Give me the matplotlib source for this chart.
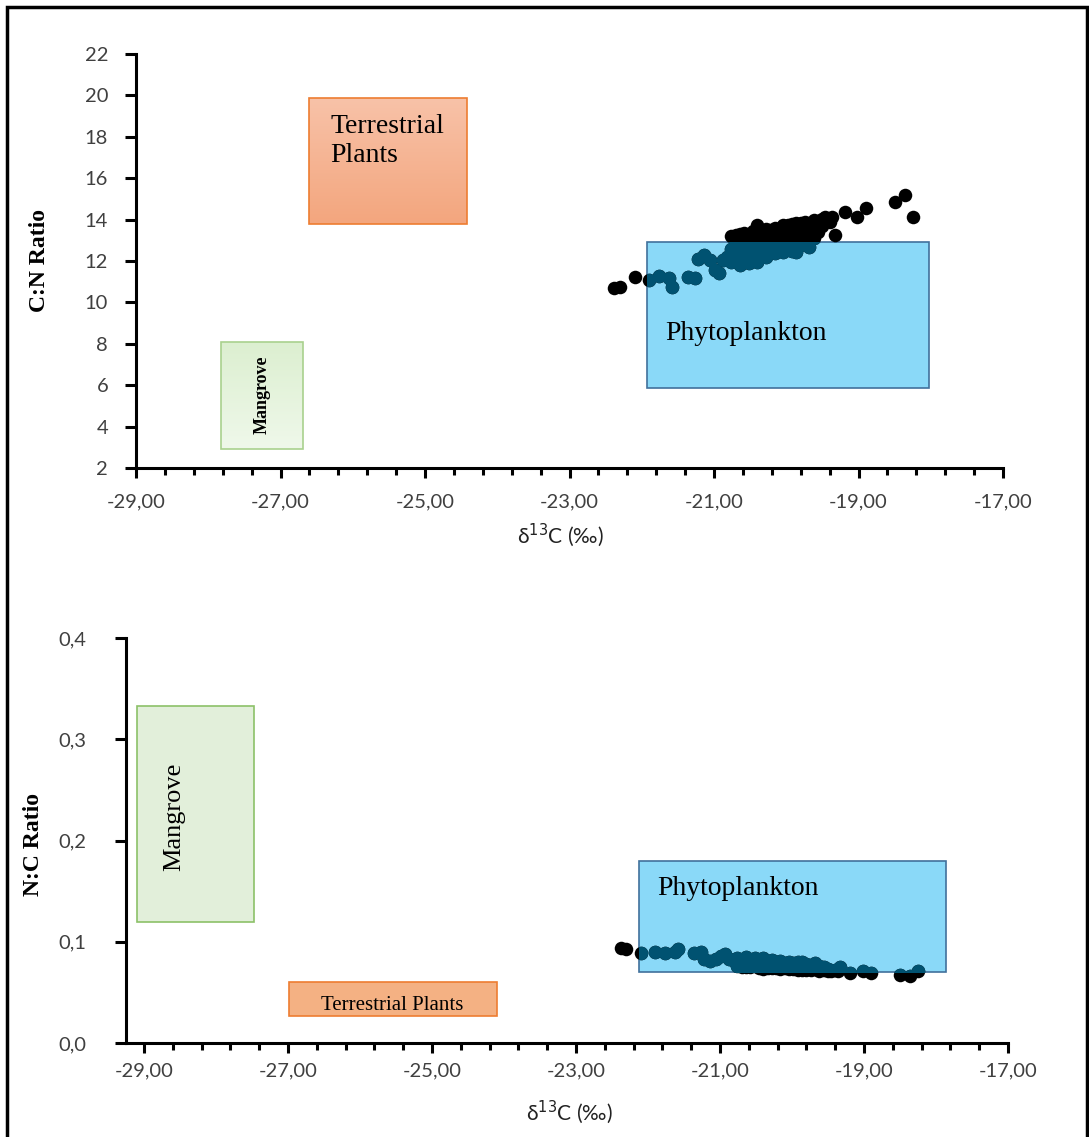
import numpy as np
import matplotlib
matplotlib.use("Agg")
import matplotlib.pyplot as plt
from matplotlib.patches import Rectangle
from matplotlib.colors import LinearSegmentedColormap
from matplotlib.ticker import FixedLocator, FuncFormatter

# sample points: d13C (permil) and C:N ratio
d13c = [-22.38, -22.30, -22.10, -21.90, -21.76, -21.62, -21.58, -21.36, -21.26,
        -21.22, -21.14, -21.06, -20.99, -20.93, -20.88, -20.82,
        -20.76, -20.76, -20.76,
        -20.70, -20.70, -20.70,
        -20.64, -20.64, -20.64, -20.64,
        -20.58, -20.58, -20.58,
        -20.52, -20.52, -20.52,
        -20.46, -20.46, -20.46,
        -20.40, -20.40, -20.40, -20.40,
        -20.34, -20.34, -20.34,
        -20.28, -20.28, -20.28, -20.28,
        -20.22, -20.22, -20.22,
        -20.16, -20.16, -20.16,
        -20.10, -20.10, -20.10,
        -20.04, -20.04, -20.04, -20.04,
        -19.98, -19.98, -19.98,
        -19.92, -19.92, -19.92,
        -19.86, -19.86, -19.86, -19.86,
        -19.80, -19.80, -19.80,
        -19.74, -19.74, -19.74,
        -19.68, -19.68, -19.68,
        -19.62, -19.62, -19.62,
        -19.56, -19.56,
        -19.50, -19.50,
        -19.46, -19.40, -19.36, -19.33, -19.19, -19.02, -18.90,
        -18.50, -18.36, -18.25]
cn = [10.68, 10.72, 11.23, 11.08, 11.28, 11.18, 10.76, 11.22, 11.16,
      12.12, 12.28, 12.05, 11.58, 11.42, 12.05, 12.20,
      11.95, 12.60, 13.22,
      12.30, 12.90, 13.25,
      11.82, 12.50, 13.10, 13.30,
      12.20, 12.80, 13.35,
      11.92, 12.55, 13.15,
      12.30, 12.90, 13.45,
      11.96, 12.65, 13.20, 13.75,
      12.40, 13.00, 13.50,
      12.18, 12.75, 13.30, 13.55,
      12.45, 13.05, 13.50,
      12.38, 12.90, 13.60,
      12.60, 13.20, 13.55,
      12.43, 12.95, 13.45, 13.72,
      12.70, 13.25, 13.75,
      12.50, 13.05, 13.80,
      12.45, 12.85, 13.40, 13.85,
      12.75, 13.30, 13.85,
      12.90, 13.50, 13.88,
      12.68, 13.20, 13.70,
      13.10, 13.60, 13.98,
      13.40, 13.95,
      13.70, 14.05,
      14.13, 13.90, 14.13, 13.25, 14.37, 14.13, 14.56,
      14.85, 15.19, 14.13]
nc = [1.0 / v for v in cn]

# source end-member boxes: (x0, x1, y0, y1)
top_phyto = (-21.93, -18.03, 5.86, 12.92)
top_terr = (-26.60, -24.42, 13.80, 19.87)
top_mang = (-27.82, -26.69, 2.92, 8.09)
bot_phyto = (-22.13, -17.86, 0.070, 0.180)
bot_terr = (-26.99, -24.10, 0.027, 0.060)
bot_mang = (-29.10, -27.47, 0.120, 0.333)

x_major = [-29, -27, -25, -23, -21, -19, -17]
x_minor = np.arange(-29, -16.9, 0.4)
cn_ticks = list(range(2, 23, 2))
nc_ticks = [0.0, 0.1, 0.2, 0.3, 0.4]

W, H = 1089, 1137
fig = plt.figure(figsize=(W / 100, H / 100), dpi=100)

tickfont = ['Lato', 'DejaVu Sans']
serif = ['Liberation Serif', 'DejaVu Serif']
tcol = '#404040'
dot_col = 'black'
over_col = '#005271'
msize = 95


def box(ax, b, fc, ec, lw=1.2, grad=None):
    x0, x1, y0, y1 = b
    r = Rectangle((x0, y0), x1 - x0, y1 - y0, facecolor=fc if grad is None else 'none',
                  edgecolor=ec, lw=lw, zorder=1)
    ax.add_patch(r)
    if grad is not None:
        cm = LinearSegmentedColormap.from_list('g', grad)
        g = np.linspace(0, 1, 50).reshape(-1, 1)  # first colour at top
        im = ax.imshow(g, cmap=cm, extent=(x0, x1, y0, y1), aspect='auto', zorder=0.9,
                       origin='upper', interpolation='bilinear')
        im.set_clip_path(r)
    return r


def style(ax, ypad, xpad):
    for s in ['top', 'right']:
        ax.spines[s].set_visible(False)
    for s in ['left', 'bottom']:
        ax.spines[s].set_linewidth(2.2)
    ax.xaxis.set_major_locator(FixedLocator(x_major))
    ax.xaxis.set_minor_locator(FixedLocator(x_minor))
    ax.xaxis.set_major_formatter(FuncFormatter(lambda v, p: ('%.2f' % v).replace('.', ',')))
    ax.tick_params(axis='x', which='major', length=7, width=2.2, pad=xpad,
                   labelsize=14.5, labelcolor=tcol)
    ax.tick_params(axis='x', which='minor', length=5, width=2.2)
    ax.tick_params(axis='y', which='major', length=8, width=2.2, pad=ypad,
                   labelsize=14.5, labelcolor=tcol)


# ---------------- top: C:N ----------------
ax1 = fig.add_axes([136 / W, (H - 468) / H, 867 / W, 414 / H])
ax1.set_xlim(-29, -17)
ax1.set_ylim(2, 22)
ax1.set_yticks(cn_ticks)
style(ax1, 12, 11)
for lab in ax1.get_xticklabels() + ax1.get_yticklabels():
    lab.set_family(tickfont)

p1 = box(ax1, top_phyto, '#8ad9f8', '#41719c')
box(ax1, top_terr, None, '#ed7d31', grad=['#f8c2a8', '#f3a67e'])
box(ax1, top_mang, None, '#a9d18e', grad=['#dcefd0', '#eff8ea'])
ax1.scatter(d13c, cn, s=msize, color=dot_col, zorder=2, linewidths=0)
sc = ax1.scatter(d13c, cn, s=msize, color=over_col, zorder=3, linewidths=0)
sc.set_clip_path(p1)

ax1.text(-26.31, 19.1, 'Terrestrial\nPlants', family=serif, fontsize=20, va='top',
         ha='left', linespacing=1.22, zorder=4)
ax1.text(-21.67, 8.52, 'Phytoplankton', family=serif, fontsize=20, va='center',
         ha='left', zorder=4)
ax1.text(-27.25, 5.53, 'Mangrove', family=serif, fontsize=13, fontweight='bold',
         rotation=90, va='center', ha='center', zorder=4)

ax1.set_ylabel('C:N Ratio', family=serif, fontweight='bold', fontsize=17)
ax1.yaxis.set_label_coords(-0.099, 0.502)
ax1.set_xlabel('δ$^{13}$C (‰)', family=tickfont, fontsize=15, color='#222222')
ax1.xaxis.set_label_coords(0.49, -0.13)

# ---------------- bottom: N:C ----------------
ax2 = fig.add_axes([126 / W, (H - 1043) / H, 882 / W, 405 / H])
ax2.set_xlim(-29.25, -17)
ax2.set_ylim(0, 0.4)
ax2.set_yticks(nc_ticks)
ax2.yaxis.set_major_formatter(FuncFormatter(lambda v, p: ('%.1f' % v).replace('.', ',')))
style(ax2, 20.5, 7)
for lab in ax2.get_xticklabels() + ax2.get_yticklabels():
    lab.set_family(tickfont)

p2 = box(ax2, bot_phyto, '#8ad9f8', '#41719c')
box(ax2, bot_terr, '#f4b183', '#ed7d31')
box(ax2, bot_mang, '#e2efda', '#8cc168')
ax2.scatter(d13c, nc, s=msize, color=dot_col, zorder=2, linewidths=0)
sc2 = ax2.scatter(d13c, nc, s=msize, color=over_col, zorder=3, linewidths=0)
sc2.set_clip_path(p2)

ax2.text(-21.875, 0.153, 'Phytoplankton', family=serif, fontsize=20, va='center',
         ha='left', zorder=4)
ax2.text(-25.55, 0.037, 'Terrestrial Plants', family=serif, fontsize=15, va='center',
         ha='center', zorder=4)
ax2.text(-28.58, 0.223, 'Mangrove', family=serif, fontsize=19, rotation=90,
         va='center', ha='center', zorder=4)

ax2.set_ylabel('N:C Ratio', family=serif, fontweight='bold', fontsize=17)
ax2.yaxis.set_label_coords(-0.093, 0.489)
ax2.set_xlabel('δ$^{13}$C (‰)', family=tickfont, fontsize=15, color='#222222')
ax2.xaxis.set_label_coords(0.503, -0.136)

# outer frame
fig.add_artist(Rectangle((7 / W, -0.01), (W - 9) / W, (H - 7) / H + 0.01,
                         transform=fig.transFigure, fill=False, lw=2.5, ec='black'))

fig.savefig('out.png', dpi=100)
